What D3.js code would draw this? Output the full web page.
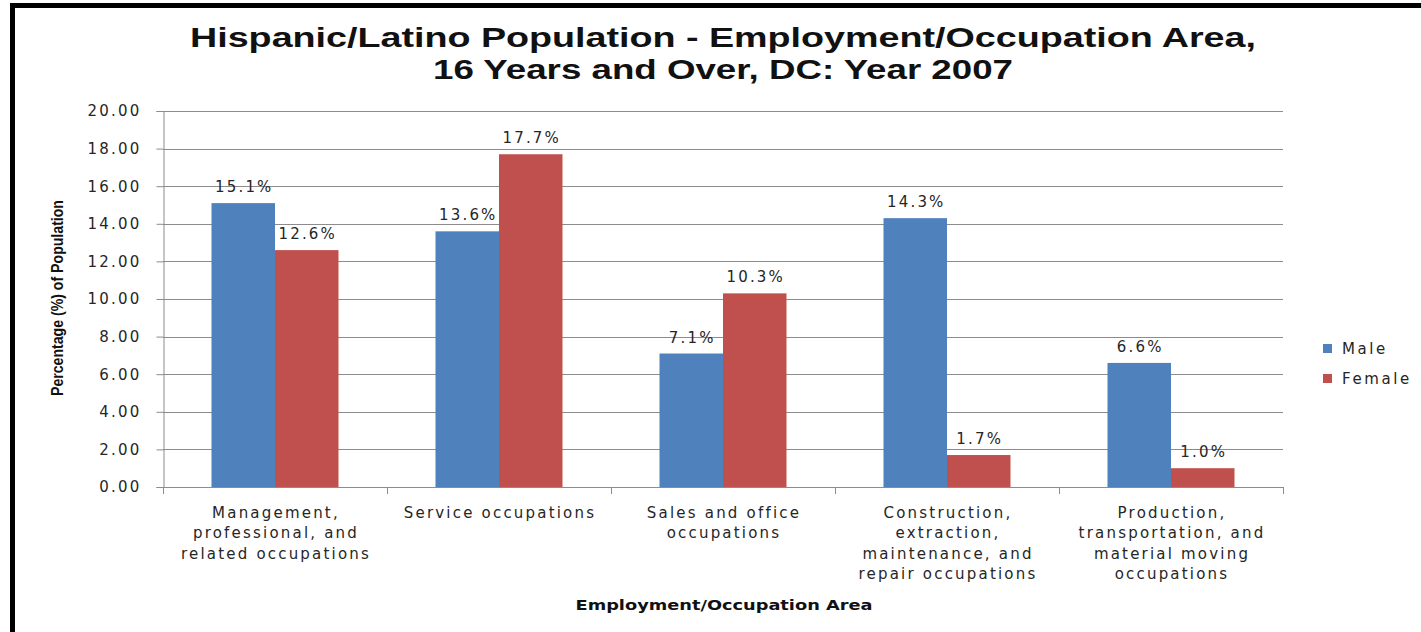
<!DOCTYPE html>
<html>
<head>
<meta charset="utf-8">
<script src="https://cdn.jsdelivr.net/npm/d3@7"></script>
<style>
  html, body { margin: 0; padding: 0; background: #fff; }
  svg { display: block; }
  .small { font-family: "DejaVu Sans", sans-serif; font-size: 15px; letter-spacing: 2.2px; fill: #262626; }
</style>
</head>
<body>
<svg id="chart" width="1421" height="632"></svg>
<script>
// Occupation areas (multi-line labels)
const categories = [
  ["Management,", "professional, and", "related occupations"],
  ["Service occupations"],
  ["Sales and office", "occupations"],
  ["Construction,", "extraction,", "maintenance, and", "repair occupations"],
  ["Production,", "transportation, and", "material moving", "occupations"]
];
const seriesNames = ["Male", "Female"];
const maleValues = [15.1, 13.6, 7.1, 14.3, 6.6];
const femaleValues = [12.6, 17.7, 10.3, 1.7, 1.0];
const yTicks = [0, 2, 4, 6, 8, 10, 12, 14, 16, 18, 20];
const titleLines = [
  "Hispanic/Latino Population - Employment/Occupation Area,",
  "16 Years and Over, DC: Year 2007"
];
const yTitle = "Percentage (%) of Population";
const xTitle = "Employment/Occupation Area";

const colors = { Male: "#4F81BD", Female: "#C0504D" };

const svg = d3.select("#chart");
const W = 1421, H = 632;
const plot = { left: 163, right: 1283, top: 111, bottom: 487 };
const cx = (plot.left + plot.right) / 2;

// Outer frame (runs off the right and bottom edges)
svg.append("rect")
  .attr("x", 12.5).attr("y", 5.5)
  .attr("width", W + 20).attr("height", H + 20)
  .attr("fill", "#fff").attr("stroke", "#000").attr("stroke-width", 5);

const x0 = d3.scaleBand()
  .domain(d3.range(categories.length))
  .range([plot.left, plot.right])
  .paddingInner(0).paddingOuter(0);

const x1 = d3.scaleBand()
  .domain(seriesNames)
  .range([0, x0.bandwidth()])
  .paddingInner(0)
  .paddingOuter(0.764);

const y = d3.scaleLinear().domain([0, 20]).range([plot.bottom, plot.top]);

// Gridlines
svg.append("g")
  .selectAll("line")
  .data(yTicks.filter(d => d > 0))
  .join("line")
  .attr("x1", plot.left).attr("x2", plot.right)
  .attr("y1", d => Math.round(y(d)) + 0.5).attr("y2", d => Math.round(y(d)) + 0.5)
  .attr("stroke", "#8c8c8c").attr("stroke-width", 1);

// Y axis
const yAxis = svg.append("g")
  .attr("transform", `translate(${plot.left + 0.5},0)`)
  .call(d3.axisLeft(y).tickValues(yTicks).tickFormat(d3.format(".2f")).tickSize(7).tickPadding(15));
yAxis.attr("font-family", null).attr("font-size", null);
yAxis.select(".domain").attr("stroke", "#8c8c8c");
yAxis.selectAll(".tick line").attr("stroke", "#8c8c8c");
yAxis.selectAll(".tick text")
  .attr("class", "small")
  .attr("fill", "#262626");

// X axis line and category boundary ticks
const xTickPos = d3.range(categories.length + 1).map(i => i === categories.length ? plot.right : x0(i));
svg.append("line")
  .attr("x1", plot.left).attr("x2", plot.right)
  .attr("y1", plot.bottom + 0.5).attr("y2", plot.bottom + 0.5)
  .attr("stroke", "#8c8c8c");
svg.append("g").selectAll("line")
  .data(xTickPos)
  .join("line")
  .attr("x1", d => Math.round(d) + 0.5).attr("x2", d => Math.round(d) + 0.5)
  .attr("y1", plot.bottom).attr("y2", plot.bottom + 7)
  .attr("stroke", "#8c8c8c");

// Bars
const rows = categories.map((c, i) => ({
  i,
  values: [
    { key: "Male", value: maleValues[i] },
    { key: "Female", value: femaleValues[i] }
  ]
}));

const groups = svg.append("g").selectAll("g")
  .data(rows)
  .join("g")
  .attr("transform", d => `translate(${x0(d.i)},0)`);

groups.selectAll("rect")
  .data(d => d.values)
  .join("rect")
  .attr("x", d => x1(d.key))
  .attr("y", d => y(d.value))
  .attr("width", x1.bandwidth())
  .attr("height", d => y(0) - y(d.value))
  .attr("fill", d => colors[d.key]);

// Value labels
groups.selectAll("text")
  .data(d => d.values)
  .join("text")
  .attr("class", "small")
  .attr("x", d => x1(d.key) + x1.bandwidth() / 2 + 1)
  .attr("y", d => y(d.value) - 11)
  .attr("text-anchor", "middle")
  .text(d => d.value.toFixed(1) + "%");

// Category labels
svg.append("g").selectAll("text")
  .data(categories)
  .join("text")
  .attr("class", "small")
  .attr("text-anchor", "middle")
  .attr("x", (d, i) => x0(i) + x0.bandwidth() / 2 + 1)
  .attr("y", 518)
  .selectAll("tspan")
  .data(d => d)
  .join("tspan")
  .attr("x", function () { return d3.select(this.parentNode).attr("x"); })
  .attr("dy", (d, j) => j === 0 ? 0 : 20.3)
  .text(d => d);

// Title (wide bold face)
const titleWidths = [1066, 580];
svg.append("g").selectAll("text")
  .data(titleLines)
  .join("text")
  .attr("x", cx)
  .attr("y", (d, i) => 47 + i * 32)
  .attr("text-anchor", "middle")
  .attr("textLength", (d, i) => titleWidths[i])
  .attr("lengthAdjust", "spacingAndGlyphs")
  .style("font-family", "'Liberation Sans', Arial, sans-serif")
  .style("font-weight", "bold")
  .style("font-size", "28px")
  .attr("fill", "#111")
  .text(d => d);

// Y axis title (condensed bold)
svg.append("text")
  .attr("transform", `translate(63,${(plot.top + plot.bottom) / 2 - 1}) rotate(-90)`)
  .attr("text-anchor", "middle")
  .attr("textLength", 196)
  .attr("lengthAdjust", "spacingAndGlyphs")
  .style("font-family", "'Liberation Sans', sans-serif")
  .style("font-weight", "bold")
  .style("font-size", "16px")
  .attr("fill", "#111")
  .text(yTitle);

// X axis title
svg.append("text")
  .attr("x", cx + 1)
  .attr("y", 610)
  .attr("text-anchor", "middle")
  .attr("textLength", 297)
  .attr("lengthAdjust", "spacingAndGlyphs")
  .style("font-family", "'DejaVu Sans', sans-serif")
  .style("font-weight", "bold")
  .style("font-size", "14px")
  .attr("fill", "#111")
  .text(xTitle);

// Legend
const legend = svg.append("g").selectAll("g")
  .data(seriesNames)
  .join("g")
  .attr("transform", (d, i) => `translate(1323,${344 + i * 30})`);
legend.append("rect")
  .attr("width", 9).attr("height", 9)
  .attr("fill", d => colors[d]);
legend.append("text")
  .attr("class", "small")
  .attr("x", 19).attr("y", 10)
  .style("letter-spacing", "2.6px")
  .text(d => d);
</script>
</body>
</html>
